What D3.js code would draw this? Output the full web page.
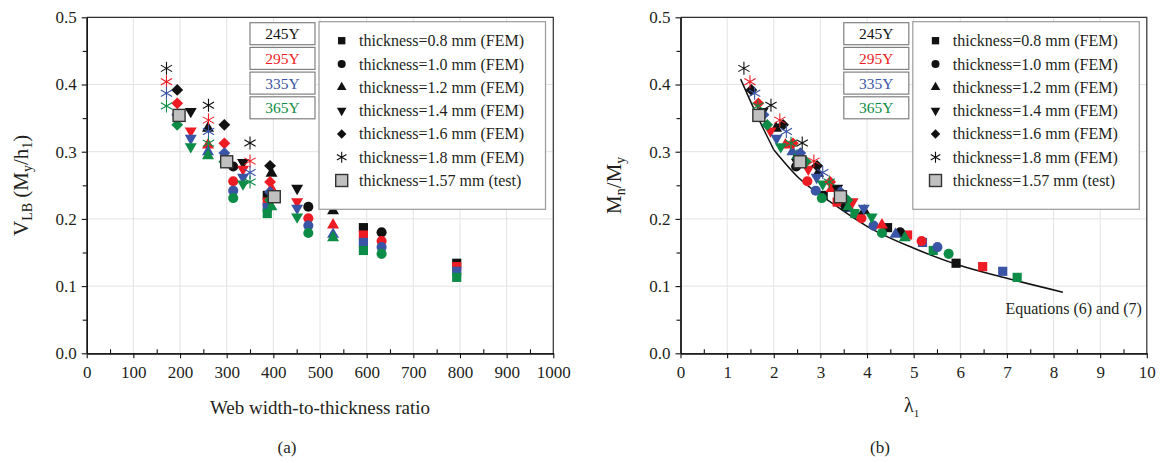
<!DOCTYPE html>
<meta charset="utf-8">

<!-- Load d3.js -->
<script src="https://d3js.org/d3.v7.min.js"></script>

<style>
    body { margin: 0; background: #fff; }
    svg text { font-family: "Liberation Serif", "DejaVu Serif", serif; fill: #231f20; }
</style>

<body>
</body>

<script>
    // yield strengths (series colours) and thickness groups (symbols)
    var yieldLabels = ["245Y", "295Y", "335Y", "365Y"];
    var yieldColors = ["#111111", "#ed1c24", "#3a55a6", "#0c8c46"];
    var legendLabels = ["thickness=0.8 mm (FEM)", "thickness=1.0 mm (FEM)", "thickness=1.2 mm (FEM)",
                        "thickness=1.4 mm (FEM)", "thickness=1.6 mm (FEM)", "thickness=1.8 mm (FEM)",
                        "thickness=1.57 mm (test)"];

    // web width-to-thickness ratio of each model, per thickness
    var t08Ratio = [387, 593, 793];
    var t10Ratio = [314, 475, 632];
    var t12Ratio = [260, 396, 528];
    var t14Ratio = [223, 335, 451];
    var t16Ratio = [194, 295, 393];
    var t18Ratio = [171, 261, 350];

    // slenderness lambda_1, rows = 245Y, 295Y, 335Y, 365Y
    var t08Lambda = [[3.06, 4.44, 5.91], [3.36, 4.87, 6.48], [3.58, 5.19, 6.91], [3.74, 5.42, 7.22]];
    var t10Lambda = [[2.48, 3.54, 4.71], [2.72, 3.88, 5.17], [2.90, 4.14, 5.51], [3.03, 4.32, 5.75]];
    var t12Lambda = [[2.05, 2.95, 3.94], [2.25, 3.24, 4.32], [2.40, 3.45, 4.61], [2.50, 3.60, 4.81]];
    var t14Lambda = [[1.76, 2.50, 3.36], [1.93, 2.74, 3.69], [2.06, 2.92, 3.93], [2.15, 3.05, 4.10]];
    var t16Lambda = [[1.52, 2.20, 2.93], [1.67, 2.41, 3.21], [1.78, 2.57, 3.43], [1.86, 2.69, 3.58]];
    var t18Lambda = [[1.36, 1.94, 2.61], [1.49, 2.13, 2.86], [1.59, 2.27, 3.05], [1.66, 2.37, 3.19]];

    // normalised strength, rows = 245Y, 295Y, 335Y, 365Y
    var t08Val = [[0.235, 0.187, 0.134], [0.225, 0.176, 0.129], [0.217, 0.165, 0.122], [0.208, 0.153, 0.113]];
    var t10Val = [[0.278, 0.218, 0.180], [0.256, 0.201, 0.167], [0.242, 0.190, 0.158], [0.231, 0.179, 0.148]];
    var t12Val = [[0.335, 0.268, 0.212], [0.310, 0.245, 0.191], [0.300, 0.232, 0.177], [0.294, 0.218, 0.172]];
    var t14Val = [[0.360, 0.284, 0.2455], [0.331, 0.274, 0.2255], [0.320, 0.262, 0.216], [0.3075, 0.252, 0.203]];
    var t16Val = [[0.392, 0.340, 0.279], [0.372, 0.3125, 0.255], [0.355, 0.298, 0.240], [0.340, 0.285, 0.228]];
    var t18Val = [[0.424, 0.369, 0.313], [0.404, 0.347, 0.286], [0.387, 0.330, 0.269], [0.368, 0.3125, 0.255]];

    // test specimens (1.57 mm)
    var testRatio = [198, 300, 402];
    var testLambda = [1.68, 2.56, 3.43];
    var testVal = [0.354, 0.285, 0.233];

    // Equations (6) and (7)
    var eq6Lambda = [1.29, 1.62, 2.0];
    var eq6Val = [0.408, 0.357, 0.303];
    var eq7Lambda = [2.0, 2.55, 3.26, 4.0, 4.98, 5.98, 6.98, 8.2];
    var eq7Val = [0.303, 0.260, 0.223, 0.189, 0.157, 0.131, 0.112, 0.091];

    var groups = [
        {sym: "square",   ratio: t08Ratio, lambda: t08Lambda, val: t08Val},
        {sym: "circle",   ratio: t10Ratio, lambda: t10Lambda, val: t10Val},
        {sym: "triangle", ratio: t12Ratio, lambda: t12Lambda, val: t12Val},
        {sym: "down",     ratio: t14Ratio, lambda: t14Lambda, val: t14Val},
        {sym: "diamond",  ratio: t16Ratio, lambda: t16Lambda, val: t16Val},
        {sym: "star",     ratio: t18Ratio, lambda: t18Lambda, val: t18Val}
    ];

    var svg = d3.select("body")
            .append("svg")
                .attr("width", 1164)
                .attr("height", 463);

    function starPath(r) {
        var c = r * Math.cos(Math.PI / 6), s = r * Math.sin(Math.PI / 6);
        return "M0," + (-r) + "L0," + r +
               "M" + (-c) + "," + (-s) + "L" + c + "," + s +
               "M" + (-c) + "," + s + "L" + c + "," + (-s);
    }

    // draws one marker into g
    function marker(g, kind, x, y, color, scale) {
        scale = scale || 1;
        var p;
        if (kind === "star") {
            g.append("path").attr("d", starPath(6.5 * scale))
                .attr("transform", "translate(" + x + "," + y + ")")
                .attr("fill", "none").attr("stroke", color).attr("stroke-width", 1.1);
            return;
        }
        if (kind === "test") {
            var s = 12;
            g.append("rect").attr("x", x - s / 2).attr("y", y - s / 2).attr("width", s).attr("height", s)
                .attr("fill", "#c0c0c0").attr("stroke", "#333").attr("stroke-width", 1.4);
            return;
        }
        var rot = 0;
        if (kind === "square") p = d3.symbol(d3.symbolSquare, 84 * scale * scale)();
        if (kind === "circle") p = d3.symbol(d3.symbolCircle, 80 * scale * scale)();
        if (kind === "triangle") p = d3.symbol(d3.symbolTriangle, 62 * scale * scale)();
        if (kind === "down") { p = d3.symbol(d3.symbolTriangle, 62 * scale * scale)(); rot = 180; }
        if (kind === "diamond") { p = d3.symbol(d3.symbolSquare, 70 * scale * scale)(); rot = 45; }
        g.append("path").attr("d", p)
            .attr("transform", "translate(" + x + "," + y + ") rotate(" + rot + ")")
            .attr("fill", color);
    }

    function drawPanel(cfg) {
        var left = cfg.left, right = cfg.right, top = 17.3, bottom = 353.3;
        var x = d3.scaleLinear().domain(cfg.xDomain).range([left, right]);
        var y = d3.scaleLinear().domain([0, 0.5]).range([bottom, top]);
        var g = svg.append("g");

        // grid
        g.append("g").selectAll("line").data(d3.range(cfg.xDomain[0], cfg.xDomain[1] + 1e-9, cfg.xStep).slice(1))
            .join("line")
            .attr("x1", d => x(d)).attr("x2", d => x(d)).attr("y1", top).attr("y2", bottom)
            .attr("stroke", "#e3e3e3").attr("stroke-width", 1);
        g.append("g").selectAll("line").data([0.1, 0.2, 0.3, 0.4, 0.5])
            .join("line")
            .attr("x1", left).attr("x2", right).attr("y1", d => y(d)).attr("y2", d => y(d))
            .attr("stroke", "#e3e3e3").attr("stroke-width", 1);

        // frame top and right
        g.append("path").attr("d", "M" + left + "," + top + "H" + right + "V" + bottom)
            .attr("fill", "none").attr("stroke", "#333").attr("stroke-width", 1.2);

        // axes
        var xAxis = d3.axisBottom(x).tickValues(d3.range(cfg.xDomain[0], cfg.xDomain[1] + 1e-9, cfg.xStep))
            .tickSize(5).tickSizeOuter(0).tickPadding(8).tickFormat(d3.format("d"));
        var xMinor = d3.axisBottom(x).tickValues(d3.range(cfg.xStep / 2, cfg.xDomain[1], cfg.xStep))
            .tickSize(-4).tickSizeOuter(0).tickFormat("");
        var yAxis = d3.axisLeft(y).tickValues([0, 0.1, 0.2, 0.3, 0.4, 0.5])
            .tickSize(5).tickSizeOuter(0).tickPadding(5).tickFormat(d3.format(".1f"));
        var yMinor = d3.axisLeft(y).tickValues([0.05, 0.15, 0.25, 0.35, 0.45])
            .tickSize(4).tickSizeOuter(0).tickFormat("");

        [ [xMinor, "translate(0," + bottom + ")"], [xAxis, "translate(0," + bottom + ")"],
          [yMinor, "translate(" + left + ",0)"], [yAxis, "translate(" + left + ",0)"] ].forEach(function(a) {
            var ag = g.append("g").attr("transform", a[1]).call(a[0]);
            ag.select(".domain").attr("stroke", "#111").attr("stroke-width", 1.3);
            ag.selectAll(".tick line").attr("stroke", "#111").attr("stroke-width", 1.1);
            ag.selectAll(".tick text").attr("font-size", 17).attr("fill", "#231f20")
                .attr("font-family", "Liberation Serif, serif");
        });

        // equation curve
        if (cfg.curve) {
            var line = d3.line().x(d => x(d[0])).y(d => y(d[1])).curve(d3.curveMonotoneX);
            g.append("path").datum(d3.zip(eq6Lambda, eq6Val)).attr("d", line)
                .attr("fill", "none").attr("stroke", "#111").attr("stroke-width", 1.5);
            g.append("path").datum(d3.zip(eq7Lambda, eq7Val)).attr("d", line)
                .attr("fill", "none").attr("stroke", "#111").attr("stroke-width", 1.5);
            g.append("text").attr("x", right - 5).attr("y", y(0.058)).attr("text-anchor", "end")
                .attr("font-size", 16).text("Equations (6) and (7)");
        }

        // FEM points
        var pts = g.append("g");
        groups.forEach(function(grp) {
            yieldLabels.forEach(function(yl, k) {
                grp.val[k].forEach(function(v, i) {
                    var xv = cfg.xKey === "ratio" ? grp.ratio[i] : grp.lambda[k][i];
                    marker(pts, grp.sym, x(xv), y(v), yieldColors[k]);
                });
            });
        });
        // test points on top
        testVal.forEach(function(v, i) {
            var xv = cfg.xKey === "ratio" ? testRatio[i] : testLambda[i];
            marker(pts, "test", x(xv), y(v));
        });

        // year boxes
        var yb = g.append("g");
        yieldLabels.forEach(function(yl, k) {
            var bx = left + 163.3, by = 22.7 + k * 24.7;
            yb.append("rect").attr("x", bx).attr("y", by).attr("width", 65).attr("height", 22)
                .attr("fill", "#fff").attr("stroke", "#808080").attr("stroke-width", 1.2);
            yb.append("text").attr("x", bx + 32.5).attr("y", by + 16.5).attr("text-anchor", "middle")
                .attr("font-size", 15.5).style("fill", yieldColors[k]).text(yl);
        });

        // symbol legend
        var lx = left + 232.3, ly = 21.7;
        var lg = g.append("g");
        lg.append("rect").attr("x", lx).attr("y", ly).attr("width", 226.5).attr("height", 187.6)
            .attr("fill", "#fff").attr("stroke", "#9a9a9a").attr("stroke-width", 1.2);
        var legendSyms = ["square", "circle", "triangle", "down", "diamond", "star", "test"];
        legendSyms.forEach(function(s, i) {
            var ry = ly + 19 + i * 23.3;
            if (s === "test") marker(lg, "test", lx + 22.7, ry);
            else marker(lg, s, lx + 22.7, ry, "#111", s === "star" ? 0.85 : 0.8);
            lg.append("text").attr("x", lx + 40).attr("y", ry + 5.5).attr("font-size", 16).text(legendLabels[i]);
        });

        // axis titles
        cfg.xTitle(g, (left + right) / 2);
        cfg.yTitle(g, (top + bottom) / 2);
        g.append("text").attr("x", cfg.captionX).attr("y", 453).attr("text-anchor", "middle")
            .attr("font-size", 17).text(cfg.caption);
    }

    drawPanel({
        left: 86.7, right: 553.3, xDomain: [0, 1000], xStep: 100, xKey: "ratio",
        caption: "(a)", captionX: 287, curve: false,
        xTitle: function(g, cx) {
            g.append("text").attr("x", cx).attr("y", 414).attr("text-anchor", "middle")
                .attr("font-size", 19).text("Web width-to-thickness ratio");
        },
        yTitle: function(g, cy) {
            var t = g.append("text").attr("transform", "translate(28," + cy + ") rotate(-90)")
                .attr("text-anchor", "middle").attr("font-size", 21);
            t.append("tspan").text("V");
            t.append("tspan").attr("font-size", 14).attr("dy", 4).text("LB");
            t.append("tspan").attr("dy", -4).text(" (M");
            t.append("tspan").attr("font-size", 14).attr("dy", 4).text("y");
            t.append("tspan").attr("dy", -4).text("/h");
            t.append("tspan").attr("font-size", 14).attr("dy", 4).text("1");
            t.append("tspan").attr("dy", -4).text(")");
        }
    });

    drawPanel({
        left: 680.5, right: 1146.8, xDomain: [0, 10], xStep: 1, xKey: "lambda",
        caption: "(b)", captionX: 880, curve: true,
        xTitle: function(g, cx) {
            var t = g.append("text").attr("x", cx - 2).attr("y", 412).attr("text-anchor", "middle")
                .attr("font-size", 20);
            t.append("tspan").text("λ");
            t.append("tspan").attr("font-size", 11).attr("dy", 5).text("1");
        },
        yTitle: function(g, cy) {
            var t = g.append("text").attr("transform", "translate(621," + cy + ") rotate(-90)")
                .attr("text-anchor", "middle").attr("font-size", 21);
            t.append("tspan").text("M");
            t.append("tspan").attr("font-size", 14).attr("dy", 4).text("n");
            t.append("tspan").attr("dy", -4).text("/M");
            t.append("tspan").attr("font-size", 14).attr("dy", 4).text("y");
        }
    });
</script>
